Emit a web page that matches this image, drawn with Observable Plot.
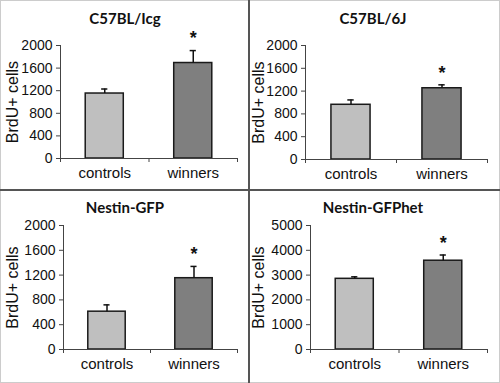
<!DOCTYPE html>
<html>
<head>
<meta charset="utf-8">
<script src="https://cdn.jsdelivr.net/npm/d3@7"></script>
<script src="https://cdn.jsdelivr.net/npm/@observablehq/plot@0.6"></script>
<style>
  html, body { margin: 0; padding: 0; background: #fff; }
  #wrap { position: relative; width: 500px; height: 383px; overflow: hidden; background: #fff; }
  .panel { position: absolute; }
  .panel svg { position: absolute; left: 0; top: 0; }
  .title { position: absolute; font-family: Lato, "Open Sans", sans-serif; font-weight: 700; font-size: 15px; color: #111; transform: translate(-50%, -50%); white-space: nowrap; }
  .line { position: absolute; background: #555; }
  .outer { position: absolute; left: 0; top: 0; width: 498px; height: 381px; border: 1px solid #ccc; }
</style>
</head>
<body>
<div id="wrap"><div class="outer"></div></div>
<script>
// ---- data ----
const titles = ["C57BL/Icg", "C57BL/6J", "Nestin-GFP", "Nestin-GFPhet"];
const categories = ["controls", "winners"];
const controlMeans = [1150, 960, 610, 2850];
const controlErrs = [80, 85, 110, 80];
const winnerMeans = [1690, 1250, 1150, 3580];
const winnerErrs = [220, 60, 190, 230];
const yMax = [2000, 2000, 2000, 5000];
const yStep = [400, 400, 400, 1000];
const yLabel = "BrdU+ cells";
const signif = "*";

// ---- layout ----
const layout = [
  {left: 0,   top: 0,   w: 250, h: 190, ml: 60, mr: 13, mt: 45, mb: 32, tx: 125, ty: 18, lx: 12},
  {left: 250, top: 0,   w: 250, h: 190, ml: 55, mr: 13, mt: 45, mb: 31, tx: 123, ty: 18, lx: 8},
  {left: 0,   top: 190, w: 250, h: 193, ml: 63, mr: 13, mt: 35, mb: 34, tx: 125, ty: 17, lx: 12},
  {left: 250, top: 190, w: 250, h: 193, ml: 60, mr: 13, mt: 35, mb: 34, tx: 123, ty: 17, lx: 8}
];
const fills = ["#bfbfbf", "#7f7f7f"];
const barHalf = 0.215;
const capHalf = 0.035;

const wrap = document.getElementById("wrap");

titles.forEach((t, p) => {
  const L = layout[p];
  const data = categories.map((c, i) => ({
    cat: c, i,
    mean: i === 0 ? controlMeans[p] : winnerMeans[p],
    err: i === 0 ? controlErrs[p] : winnerErrs[p]
  }));
  const chart = Plot.plot({
    width: L.w, height: L.h,
    marginLeft: L.ml, marginRight: L.mr, marginTop: L.mt, marginBottom: L.mb,
    x: {domain: [0, 2], axis: null},
    y: {domain: [0, yMax[p]], axis: null},
    style: {fontFamily: "'Liberation Sans', Arial, sans-serif", fontSize: "14px", color: "#111", background: "transparent", overflow: "visible"},
    marks: [
      Plot.rectY(data, {x1: d => d.i + 0.5 - barHalf, x2: d => d.i + 0.5 + barHalf, y1: 0, y2: "mean",
        fill: d => fills[d.i], stroke: "#1a1a1a", strokeWidth: 1.5}),
      Plot.ruleX(data, {x: d => d.i + 0.5, y1: "mean", y2: d => d.mean + d.err, stroke: "#111", strokeWidth: 1.5}),
      Plot.ruleY(data, {y: d => d.mean + d.err, x1: d => d.i + 0.5 - capHalf, x2: d => d.i + 0.5 + capHalf, stroke: "#111", strokeWidth: 1.5}),
      Plot.ruleX([0], {stroke: "#444"}),
      Plot.ruleY([0], {stroke: "#444"}),
      Plot.axisY({ticks: d3.range(0, yMax[p] + 1, yStep[p]), tickSize: 4, tickPadding: 4, tickFormat: d => String(d),
        fontSize: 14, label: null, stroke: "#444"}),
      Plot.text([yLabel], {frameAnchor: "left", textAnchor: "middle", lineAnchor: "middle", rotate: -90, dx: L.lx - L.ml, text: d => d, fontSize: 16, fill: "#111"}),
      Plot.axisX({ticks: [0, 1, 2], tickSize: 4, tickFormat: () => "", stroke: "#444"}),
      Plot.axisX({ticks: [0.5, 1.5], tickSize: 0, tickPadding: 9, tickFormat: v => categories[Math.floor(v)], fontSize: 15, label: null}),
      Plot.text(data.filter(d => d.i === 1), {x: d => d.i + 0.5, y: d => d.mean + d.err, text: () => signif,
        dy: -12, fontSize: 18, fontWeight: "bold", fill: "#111"})
    ]
  });
  const div = document.createElement("div");
  div.className = "panel";
  div.style.left = L.left + "px"; div.style.top = L.top + "px";
  div.style.width = L.w + "px"; div.style.height = L.h + "px";
  div.appendChild(chart);
  const tt = document.createElement("div");
  tt.className = "title";
  tt.textContent = t;
  tt.style.left = L.tx + "px"; tt.style.top = L.ty + "px";
  div.appendChild(tt);
  wrap.appendChild(div);
});

// dividers
const v = document.createElement("div"); v.className = "line";
v.style.left = "248px"; v.style.top = "0px"; v.style.width = "2px"; v.style.height = "383px";
const h = document.createElement("div"); h.className = "line";
h.style.left = "0px"; h.style.top = "189px"; h.style.width = "500px"; h.style.height = "2px";
wrap.appendChild(v); wrap.appendChild(h);
</script>
</body>
</html>
